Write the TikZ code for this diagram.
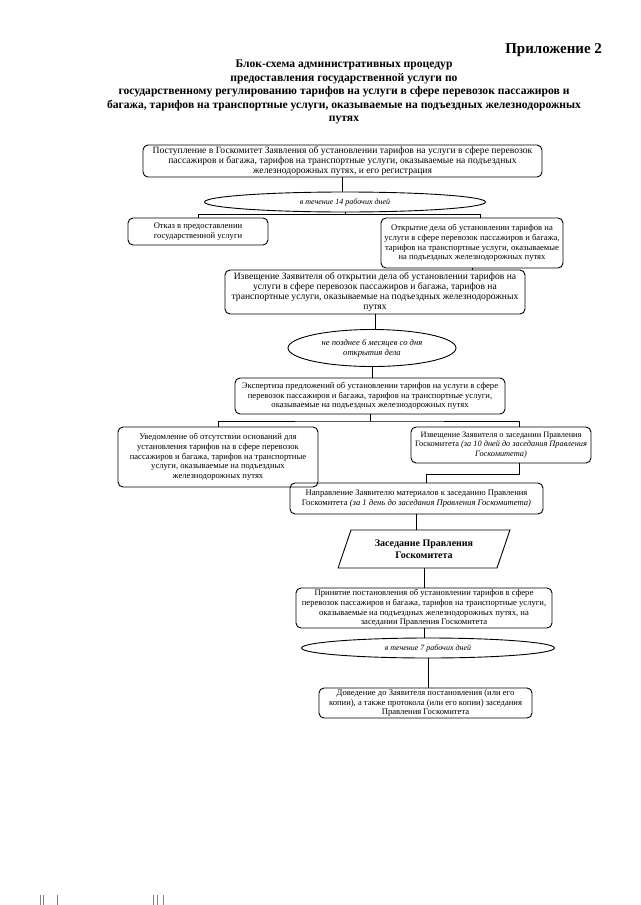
\documentclass[tikz,border=0pt]{standalone}
\usepackage{fontspec}
\setmainfont{Liberation Serif}
\usetikzlibrary{shapes.geometric,calc}
\newcommand\bxfont{\fontsize{8.6}{9.8}\selectfont}
\newcommand\bigbxfont{\fontsize{9.6}{9.9}\selectfont}
\newcommand\elfont{\fontsize{8}{9}\selectfont\itshape}
\begin{document}
\begin{tikzpicture}[x=1pt,y=-1pt,
  every node/.style={inner sep=0pt,outer sep=0pt},
  stepbox/.style={draw,line width=0.9pt,rounded corners=5pt,align=center,font=\bxfont},
  oval/.style={draw,line width=0.9pt,ellipse,align=center,font=\elfont},
  meetbox/.style={draw,line width=0.9pt,trapezium,trapezium left angle=65,trapezium right angle=115,trapezium stretches=true,align=center,font=\fontsize{10}{12}\selectfont\bfseries},
  link/.style={line width=0.9pt}]
\useasboundingbox (0,0) rectangle (640,905);

\node[anchor=east,font=\fontsize{15}{16}\selectfont\bfseries] (app) at (602,50) {Приложение 2};
\node[align=center,font=\fontsize{11.6}{13.5}\selectfont\bfseries] (title) at (344,92) {Блок-схема административных процедур\\
предоставления государственной услуги по\\
государственному регулированию тарифов на услуги в сфере перевозок пассажиров и\\
багажа, тарифов на транспортные услуги, оказываемые на подъездных железнодорожных\\
путях};

\node[stepbox,font=\bigbxfont,minimum width=399,minimum height=32] (b1) at (342.5,161) {Поступление в Госкомитет Заявления об установлении тарифов на услуги в сфере перевозок\\
пассажиров и багажа, тарифов на транспортные услуги, оказываемые на подъездных\\
железнодорожных путях, и его регистрация};

\node[oval,minimum width=281,minimum height=20] (e1) at (345,202) {в течение 14 рабочих дней};

\node[stepbox,minimum width=140,minimum height=27] (refuse) at (198,231.5) {Отказ в предоставлении\\государственной услуги};

\node[stepbox,minimum width=182,minimum height=50] (open) at (472,243) {Открытие дела об установлении тарифов на\\
услуги в сфере перевозок пассажиров и багажа,\\
тарифов на транспортные услуги, оказываемые\\
на подъездных железнодорожных путях};

\node[stepbox,font=\bigbxfont,minimum width=300,minimum height=44] (inform) at (375,292) {Извещение Заявителя об открытии дела об установлении тарифов на\\
услуги в сфере перевозок пассажиров и багажа, тарифов на\\
транспортные услуги, оказываемые на подъездных железнодорожных\\
путях};

\node[oval,minimum width=168,minimum height=37,font=\fontsize{8.6}{10}\selectfont\itshape] (e2) at (372,348) {не позднее 6 месяцев со дня\\открытия дела};

\node[stepbox,minimum width=270,minimum height=36] (expert) at (370,396) {Экспертиза предложений об установлении тарифов на услуги в сфере\\
перевозок пассажиров и багажа, тарифов на транспортные услуги,\\
оказываемые на подъездных железнодорожных путях};

\node[stepbox,minimum width=200,minimum height=60] (absent) at (218,457) {Уведомление об отсутствии оснований для\\
установления тарифов на в сфере перевозок\\
пассажиров и багажа, тарифов на транспортные\\
услуги, оказываемые на подъездных\\
железнодорожных путях};

\node[stepbox,font=\fontsize{8.3}{9.8}\selectfont,minimum width=180,minimum height=36] (notice) at (501,445) {Извещение Заявителя о заседании Правления\\
Госкомитета \textit{(за 10 дней до заседания Правления}\\
\textit{Госкомитета)}};

\node[stepbox,minimum width=253,minimum height=31] (send) at (416.5,498.5) {Направление Заявителю материалов к заседанию Правления\\
Госкомитета \textit{(за 1 день до заседания Правления Госкомитета)}};

\node[meetbox,minimum width=172,minimum height=38] (para) at (424,549) {Заседание Правления\\Госкомитета};

\node[stepbox,minimum width=256,minimum height=40] (accept) at (424,608) {Принятие постановления об установлении тарифов в сфере\\
перевозок пассажиров и багажа, тарифов на транспортные услуги,\\
оказываемые на подъездных железнодорожных путях, на\\
заседании Правления Госкомитета};

\node[oval,minimum width=253,minimum height=20] (e3) at (428,648) {в течение 7 рабочих дней};

\node[stepbox,minimum width=213,minimum height=30] (deliver) at (425.5,703) {Доведение до Заявителя постановления (или его\\
копии), а также протокола (или его копии) заседания\\
Правления Госкомитета};

% connectors
\draw[link] (b1.south) -- (b1.south |- e1.north);
\coordinate (j1) at (345,214.5);
\draw[link] (e1.south) -- (j1);
\coordinate (r1) at (480,214.5);
\draw[link] (refuse.north) |- (j1) -- (r1) -- (r1 |- open.north);
\draw[link] (open.south) -- (open.south |- inform.north);
\draw[link] (inform.south) -- (inform.south |- e2.north);
\draw[link] (e2.south) -- (e2.south |- expert.north);
\coordinate (j2) at (370,421);
\coordinate (r2) at (519,421);
\draw[link] (expert.south) -- (j2);
\draw[link] (absent.north) |- (j2) -- (r2) -- (r2 |- notice.north);
\coordinate (k1) at (519,474);
\coordinate (k2) at (426,474);
\draw[link] (k1 |- notice.south) -- (k1) -- (k2) -- (k2 |- send.north);
\draw[link] (send.south) -- (send.south |- para.north);
\draw[link] (para.south) -- (para.south |- accept.north);
\draw[link] (accept.south) -- (accept.south |- e3.north);
\draw[link] (e3.south) -- (e3.south |- deliver.north);

% scan marks at the bottom
\foreach \mx in {40,43,57,153,157,163}
  \draw[line width=0.7pt,gray] (\mx,895) -- (\mx,905);
\end{tikzpicture}
\end{document}
